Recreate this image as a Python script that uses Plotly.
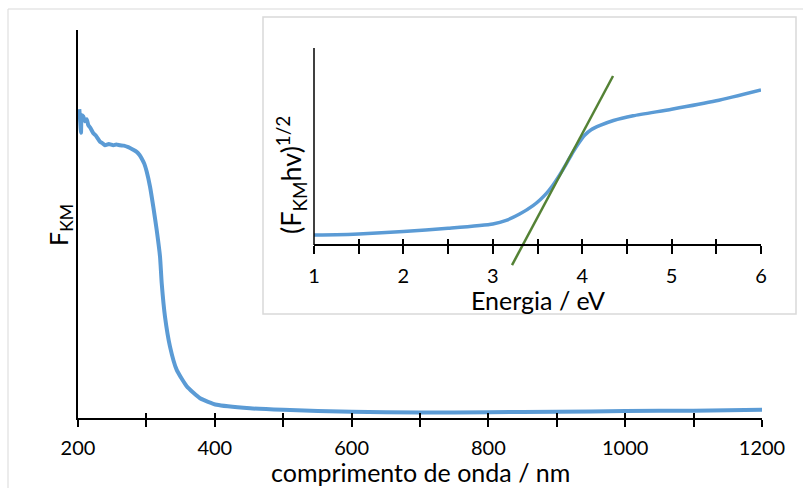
import plotly.graph_objects as go

# ---------------- data ----------------
wavelength_nm = [201.9, 203.0, 204.4, 205.5, 207.7, 210.0, 212.7, 215.0, 218.0, 222.4, 226.0,
                 232.2, 236.0, 239.5, 245.0, 251.6, 256.0, 261.4, 267.0, 273.5, 280.0, 285.8,
                 290.0, 293.1, 297.0, 300.4, 305.3, 310.1, 315.1, 319.9, 322.4, 327.2, 334.5,
                 344.3, 358.9, 378.4, 402.8, 451.5, 500, 600, 700, 800, 900, 1000, 1100, 1200]
fkm = [0.796, 0.770, 0.735, 0.780, 0.777, 0.765, 0.770, 0.755, 0.748, 0.734, 0.728,
       0.712, 0.708, 0.703, 0.706, 0.703, 0.705, 0.703, 0.702, 0.698, 0.692, 0.686,
       0.678, 0.669, 0.655, 0.635, 0.596, 0.544, 0.484, 0.416, 0.347, 0.261, 0.184,
       0.124, 0.082, 0.051, 0.034, 0.025, 0.021, 0.016, 0.014, 0.015, 0.016, 0.018, 0.019, 0.021]

energy_ev = [1.0, 1.25, 1.5, 2.0, 2.5, 3.0, 3.15, 3.3, 3.45, 3.53, 3.6, 3.67, 3.75, 3.83,
             3.9, 3.97, 4.03, 4.1, 4.2, 4.35, 4.57, 5.0, 5.5, 6.0]
tauc = [0.051, 0.052, 0.056, 0.068, 0.085, 0.107, 0.125, 0.157, 0.200, 0.230, 0.262, 0.302,
        0.357, 0.418, 0.474, 0.523, 0.558, 0.585, 0.607, 0.632, 0.656, 0.689, 0.732, 0.787]

tangent_ev = [3.215, 4.345]
tangent_val = [-0.102, 0.858]

main_ticks = list(range(200, 1201, 100))
main_ticklabels = [str(v) if v % 200 == 0 else "" for v in main_ticks]
inset_ticks = [1, 1.5, 2, 2.5, 3, 3.5, 4, 4.5, 5, 5.5, 6]
inset_ticklabels = ["1", "", "2", "", "3", "", "4", "", "5", "", "6"]

# ---------------- style ----------------
BLUE = "#5B9BD5"
GREEN = "#548235"
FRAME = "#D9D9D9"
FONT = "Lato"
TICKFONT = dict(family=FONT, size=20, color="#000000")
TITLEFONT = dict(family=FONT, size=25, color="#000000")

# pixel geometry of main plot area
L, R, T, B = 78, 762, 30, 418
W, H = 803, 488


def px(x):
    return (x - L) / (R - L)


def py(y):
    return (B - y) / (B - T)


fig = go.Figure()

fig.add_trace(go.Scatter(x=wavelength_nm, y=fkm, mode="lines",
                         line=dict(color=BLUE, width=4, shape="spline", smoothing=0.5),
                         xaxis="x", yaxis="y", showlegend=False, hoverinfo="skip"))
# invisible helper for inner tick overlay
fig.add_trace(go.Scatter(x=wavelength_nm[:1], y=fkm[:1], mode="markers", marker=dict(opacity=0),
                         xaxis="x3", yaxis="y", showlegend=False, hoverinfo="skip"))

fig.add_trace(go.Scatter(x=energy_ev, y=tauc, mode="lines",
                         line=dict(color=BLUE, width=3.5, shape="spline", smoothing=0.6),
                         xaxis="x2", yaxis="y2", showlegend=False, hoverinfo="skip"))
fig.add_trace(go.Scatter(x=tangent_ev, y=tangent_val, mode="lines",
                         line=dict(color=GREEN, width=2.5),
                         xaxis="x2", yaxis="y2", showlegend=False, hoverinfo="skip"))
fig.add_trace(go.Scatter(x=energy_ev[:1], y=tauc[:1], mode="markers", marker=dict(opacity=0),
                         xaxis="x4", yaxis="y2", showlegend=False, hoverinfo="skip"))

inset_x_dom = [px(314), px(761)]
inset_y_dom = [py(268), py(48)]
inset_axis_pos = py(245)
inset_y_range = [-23 / 197, 1.0]

common_ax = dict(showgrid=False, zeroline=False)

fig.update_layout(
    width=W, height=H,
    margin=dict(l=L, r=W - R, t=T, b=H - B),
    paper_bgcolor="white", plot_bgcolor="rgba(0,0,0,0)",
    xaxis=dict(**common_ax, range=[200, 1200], tickmode="array", tickvals=main_ticks,
               ticktext=main_ticklabels, ticks="outside", ticklen=7, tickwidth=1.5,
               tickcolor="black", showline=True, linecolor="black", linewidth=1.5,
               tickfont=TICKFONT, ticklabelstandoff=4, anchor="y", domain=[0, 1]),
    xaxis3=dict(**common_ax, range=[200, 1200], tickmode="array", tickvals=main_ticks,
                ticks="inside", ticklen=5, tickwidth=1.5, tickcolor="black",
                showticklabels=False, showline=False, overlaying="x", anchor="y"),
    yaxis=dict(**common_ax, range=[0, 1], showticklabels=False, ticks="",
               showline=True, linecolor="black", linewidth=1.5, domain=[0, 1], anchor="x"),
    xaxis2=dict(**common_ax, range=[1, 6], tickmode="array", tickvals=inset_ticks,
                ticktext=inset_ticklabels, ticks="outside", ticklen=8, tickwidth=1.5,
                tickcolor="black", showline=True, linecolor="black", linewidth=1.5,
                tickfont=TICKFONT, ticklabelstandoff=5, domain=inset_x_dom, anchor="free",
                position=inset_axis_pos),
    xaxis4=dict(**common_ax, range=[1, 6], tickmode="array", tickvals=inset_ticks,
                ticks="inside", ticklen=6, tickwidth=1.5, tickcolor="black",
                showticklabels=False, showline=False, overlaying="x2", anchor="free",
                position=inset_axis_pos),
    yaxis2=dict(**common_ax, range=inset_y_range, showticklabels=False, ticks="",
                showline=False, domain=inset_y_dom, anchor="x2"),
    shapes=[
        # outer chart frame
        dict(type="rect", xref="paper", yref="paper", x0=px(8), x1=px(812), y0=py(500), y1=py(9),
             line=dict(color=FRAME, width=1), fillcolor="rgba(0,0,0,0)", layer="below"),
        # inset frame
        dict(type="rect", xref="paper", yref="paper", x0=px(263), x1=px(796), y0=py(314), y1=py(17),
             line=dict(color=FRAME, width=1.5), fillcolor="white", layer="below"),
        # inset y axis line
        dict(type="line", xref="paper", yref="paper", x0=px(314), x1=px(314),
             y0=inset_axis_pos, y1=py(48), line=dict(color="black", width=1.5)),
    ],
    annotations=[
        dict(text="comprimento de onda / nm", xref="paper", yref="paper", x=px(420), y=py(472),
             xanchor="center", yanchor="middle", showarrow=False, font=TITLEFONT),
        dict(text="F<sub>KM</sub>", xref="paper", yref="paper", x=px(60), y=py(225),
             xanchor="center", yanchor="middle", showarrow=False, font=TITLEFONT, textangle=-90),
        dict(text="Energia / eV", xref="paper", yref="paper", x=px(537.5), y=py(300),
             xanchor="center", yanchor="middle", showarrow=False, font=TITLEFONT),
        dict(text="(F<sub>KM</sub>hv)<sup>1/2</sup>", xref="paper", yref="paper", x=px(291), y=py(175),
             xanchor="center", yanchor="middle", showarrow=False,
             font=dict(family=FONT, size=27, color="#000000"), textangle=-90),
    ],
)

fig.write_html("out.html")
